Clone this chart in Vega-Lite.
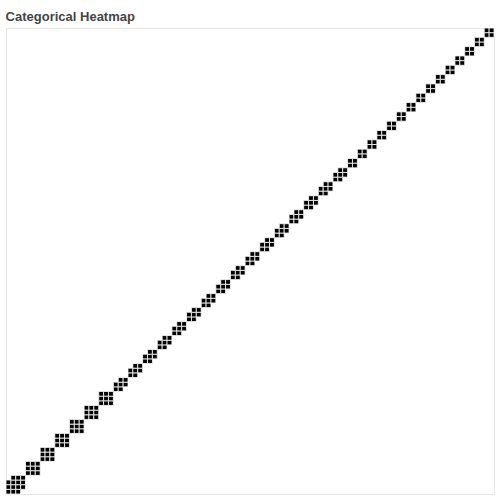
{
  "$schema": "https://vega.github.io/schema/vega-lite/v6.json",
  "width": 500,
  "height": 500,
  "padding": {"left": 5, "right": 5, "top": 10, "bottom": 5},
  "autosize": {"type": "fit", "contains": "padding"},
  "title": {"text": "Categorical Heatmap", "anchor": "start", "fontSize": 13, "font": "Liberation Sans", "fontWeight": "bold", "color": "#444"},
  "config": {"view": {"stroke": "#e6e6e6"}},
  "data": {"values": [
    {"x":0,"y":0},{"x":0,"y":1},{"x":0,"y":2},{"x":1,"y":0},{"x":1,"y":1},{"x":1,"y":2},{"x":1,"y":3},{"x":2,"y":0},{"x":2,"y":1},{"x":2,"y":2},{"x":2,"y":3},{"x":3,"y":1},{"x":3,"y":2},{"x":3,"y":3},
    {"x":4,"y":4},{"x":4,"y":5},{"x":4,"y":6},{"x":5,"y":4},{"x":5,"y":5},{"x":5,"y":6},{"x":6,"y":4},{"x":6,"y":5},{"x":6,"y":6},
    {"x":7,"y":7},{"x":7,"y":8},{"x":7,"y":9},{"x":8,"y":7},{"x":8,"y":8},{"x":8,"y":9},{"x":9,"y":7},{"x":9,"y":8},{"x":9,"y":9},
    {"x":10,"y":10},{"x":10,"y":11},{"x":10,"y":12},{"x":11,"y":10},{"x":11,"y":11},{"x":11,"y":12},{"x":12,"y":10},{"x":12,"y":11},{"x":12,"y":12},
    {"x":13,"y":13},{"x":13,"y":14},{"x":13,"y":15},{"x":14,"y":13},{"x":14,"y":14},{"x":14,"y":15},{"x":15,"y":13},{"x":15,"y":14},{"x":15,"y":15},
    {"x":16,"y":16},{"x":16,"y":17},{"x":16,"y":18},{"x":17,"y":16},{"x":17,"y":17},{"x":17,"y":18},{"x":18,"y":16},{"x":18,"y":17},{"x":18,"y":18},
    {"x":19,"y":19},{"x":19,"y":20},{"x":19,"y":21},{"x":20,"y":19},{"x":20,"y":20},{"x":20,"y":21},{"x":21,"y":19},{"x":21,"y":20},{"x":21,"y":21},
    {"x":22,"y":22},{"x":22,"y":23},{"x":23,"y":22},{"x":23,"y":23},{"x":23,"y":24},{"x":24,"y":23},{"x":24,"y":24},
    {"x":25,"y":25},{"x":25,"y":26},{"x":26,"y":25},{"x":26,"y":26},{"x":26,"y":27},{"x":27,"y":26},{"x":27,"y":27},
    {"x":28,"y":28},{"x":28,"y":29},{"x":29,"y":28},{"x":29,"y":29},{"x":29,"y":30},{"x":30,"y":29},{"x":30,"y":30},
    {"x":31,"y":31},{"x":31,"y":32},{"x":32,"y":31},{"x":32,"y":32},{"x":32,"y":33},{"x":33,"y":32},{"x":33,"y":33},
    {"x":34,"y":34},{"x":34,"y":35},{"x":35,"y":34},{"x":35,"y":35},{"x":35,"y":36},{"x":36,"y":35},{"x":36,"y":36},
    {"x":37,"y":37},{"x":37,"y":38},{"x":38,"y":37},{"x":38,"y":38},{"x":38,"y":39},{"x":39,"y":38},{"x":39,"y":39},
    {"x":40,"y":40},{"x":40,"y":41},{"x":41,"y":40},{"x":41,"y":41},{"x":41,"y":42},{"x":42,"y":41},{"x":42,"y":42},
    {"x":43,"y":43},{"x":43,"y":44},{"x":44,"y":43},{"x":44,"y":44},{"x":44,"y":45},{"x":45,"y":44},{"x":45,"y":45},
    {"x":46,"y":46},{"x":46,"y":47},{"x":47,"y":46},{"x":47,"y":47},{"x":47,"y":48},{"x":48,"y":47},{"x":48,"y":48},
    {"x":49,"y":49},{"x":49,"y":50},{"x":50,"y":49},{"x":50,"y":50},{"x":50,"y":51},{"x":51,"y":50},{"x":51,"y":51},
    {"x":52,"y":52},{"x":52,"y":53},{"x":53,"y":52},{"x":53,"y":53},{"x":53,"y":54},{"x":54,"y":53},{"x":54,"y":54},
    {"x":55,"y":55},{"x":55,"y":56},{"x":56,"y":55},{"x":56,"y":56},{"x":56,"y":57},{"x":57,"y":56},{"x":57,"y":57},
    {"x":58,"y":58},{"x":58,"y":59},{"x":59,"y":58},{"x":59,"y":59},{"x":59,"y":60},{"x":60,"y":59},{"x":60,"y":60},
    {"x":61,"y":61},{"x":61,"y":62},{"x":62,"y":61},{"x":62,"y":62},{"x":62,"y":63},{"x":63,"y":62},{"x":63,"y":63},
    {"x":64,"y":64},{"x":64,"y":65},{"x":65,"y":64},{"x":65,"y":65},{"x":65,"y":66},{"x":66,"y":65},{"x":66,"y":66},
    {"x":67,"y":67},{"x":67,"y":68},{"x":68,"y":67},{"x":68,"y":68},{"x":68,"y":69},{"x":69,"y":68},{"x":69,"y":69},
    {"x":70,"y":70},{"x":70,"y":71},{"x":71,"y":70},{"x":71,"y":71},
    {"x":72,"y":72},{"x":72,"y":73},{"x":73,"y":72},{"x":73,"y":73},
    {"x":74,"y":74},{"x":74,"y":75},{"x":75,"y":74},{"x":75,"y":75},
    {"x":76,"y":76},{"x":76,"y":77},{"x":77,"y":76},{"x":77,"y":77},
    {"x":78,"y":78},{"x":78,"y":79},{"x":79,"y":78},{"x":79,"y":79},
    {"x":80,"y":80},{"x":80,"y":81},{"x":81,"y":80},{"x":81,"y":81},
    {"x":82,"y":82},{"x":82,"y":83},{"x":83,"y":82},{"x":83,"y":83},
    {"x":84,"y":84},{"x":84,"y":85},{"x":85,"y":84},{"x":85,"y":85},
    {"x":86,"y":86},{"x":86,"y":87},{"x":87,"y":86},{"x":87,"y":87},
    {"x":88,"y":88},{"x":88,"y":89},{"x":89,"y":88},{"x":89,"y":89},
    {"x":90,"y":90},{"x":90,"y":91},{"x":91,"y":90},{"x":91,"y":91},
    {"x":92,"y":92},{"x":92,"y":93},{"x":93,"y":92},{"x":93,"y":93},
    {"x":94,"y":94},{"x":94,"y":95},{"x":95,"y":94},{"x":95,"y":95},
    {"x":96,"y":96},{"x":96,"y":97},{"x":97,"y":96},{"x":97,"y":97},
    {"x":98,"y":98},{"x":98,"y":99},{"x":99,"y":98},{"x":99,"y":99}
  ]},
  "mark": {"type": "rect", "color": "black", "stroke": "white", "strokeWidth": 0.8},
  "encoding": {
    "x": {"field": "x", "type": "ordinal", "axis": null},
    "y": {"field": "y", "type": "ordinal", "sort": "descending", "axis": null}
  }
}
